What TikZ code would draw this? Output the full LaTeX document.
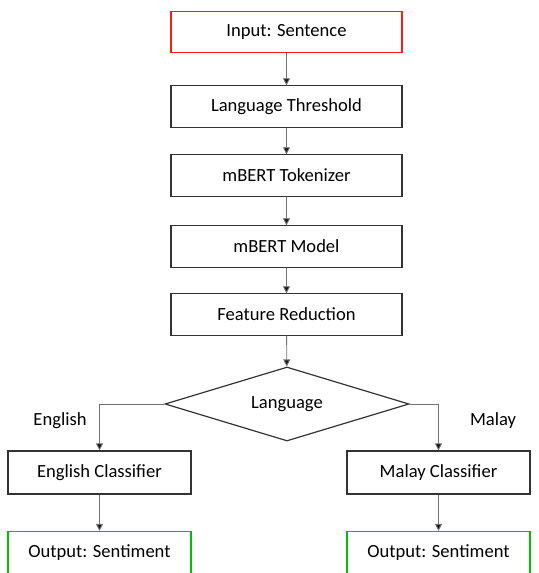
\documentclass[tikz,border=0pt]{standalone}
\usepackage{fontspec}
\setmainfont{Carlito}
\usetikzlibrary{shapes.geometric,arrows.meta}

\begin{document}
\begin{tikzpicture}[x=0.025cm, y=-0.025cm,
    stepbox/.style={draw=black!80, line width=0.85pt, minimum width=5.775cm, minimum height=1.03cm, font=\fontsize{13.2}{15}\selectfont},
    sidebox/.style={stepbox, minimum width=4.575cm, minimum height=1.075cm},
    flow/.style={draw=black!55, line width=0.6pt, -{Triangle[length=5pt,width=5pt,fill=black!90]}}]
      % \draw[help lines, gray!50, very thin] (0,0) grid (539,573);
      \useasboundingbox (0,0) rectangle (539,573);

      \node[stepbox, draw=red!90] (input) at (286.5,32) {Input: Sentence};
      \node[stepbox] (thresh) at (286.5,106.5) {Language Threshold};
      \node[stepbox] (token) at (286.5,175.5) {mBERT Tokenizer};
      \node[stepbox] (model) at (286.5,246.5) {mBERT Model};
      \node[stepbox] (reduce) at (286.5,314.5) {Feature Reduction};
      \node[draw=black!80, line width=0.85pt, shape=diamond, aspect=3.3, inner sep=0pt,
            minimum width=6.1cm, minimum height=1.85cm, font=\fontsize{13.2}{15}\selectfont] (lang) at (287,404) {Language};

      \node[sidebox] (engcls) at (99.5,472.5) {English Classifier};
      \node[sidebox] (malcls) at (438.5,472.5) {Malay Classifier};
      \node[sidebox, draw=green!75!black] (engout) at (99.5,553) {Output: Sentiment};
      \node[sidebox, draw=green!75!black] (malout) at (438.5,553) {Output: Sentiment};

      \node[font=\fontsize{13.2}{15}\selectfont] (englab) at (60,421) {English};
      \node[font=\fontsize{13.2}{15}\selectfont] (mallab) at (493,421) {Malay};

      \draw[flow] (input) -- (thresh);
      \draw[flow] (thresh) -- (token);
      \draw[flow] (token) -- (model);
      \draw[flow] (model) -- (reduce);
      \draw[flow] (reduce) -- (lang);
      \draw[flow] (lang.west) -| (engcls.north);
      \draw[flow] (lang.east) -| (malcls.north);
      \draw[flow] (engcls) -- (engout);
      \draw[flow] (malcls) -- (malout);
    \end{tikzpicture}
\end{document}
